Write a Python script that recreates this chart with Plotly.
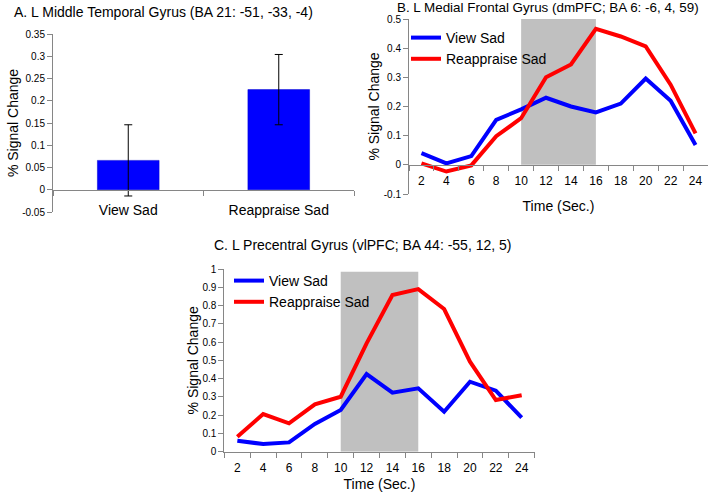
import plotly.graph_objects as go

# ---------------- data ----------------
categories = ["View Sad", "Reappraise Sad"]
bar_values = [0.066, 0.225]
bar_errors = [0.080, 0.079]

time_sec = [2, 4, 6, 8, 10, 12, 14, 16, 18, 20, 22, 24]
b_view_sad = [0.040, 0.005, 0.030, 0.154, 0.190, 0.230, 0.200, 0.180, 0.210, 0.296, 0.220, 0.068]
b_reappraise_sad = [0.005, -0.023, -0.002, 0.098, 0.160, 0.300, 0.344, 0.466, 0.440, 0.406, 0.275, 0.108]
c_view_sad = [0.060, 0.042, 0.051, 0.152, 0.228, 0.425, 0.323, 0.347, 0.219, 0.383, 0.334, 0.186]
c_reappraise_sad = [0.082, 0.206, 0.155, 0.259, 0.301, 0.593, 0.858, 0.890, 0.781, 0.493, 0.283, 0.309]

shade_start, shade_end = 10, 16
b_shade_top, c_shade_top = 0.5, 0.985

title_a = "A. L Middle Temporal Gyrus (BA 21: -51, -33, -4)"
title_b = "B. L Medial Frontal Gyrus (dmPFC; BA 6: -6, 4, 59)"
title_c = "C. L Precentral Gyrus (vlPFC; BA 44: -55, 12, 5)"

# ---------------- layout helpers ----------------
W, H = 708, 492
FONT = "Liberation Sans, Arial, sans-serif"
AX = "#868686"
BLUE = "#0000FF"
RED = "#FF0000"


def xd(left, right):
    return [left / W, min(right / W, 1.0)]


def yd(top, bottom):
    return [1 - bottom / H, 1 - top / H]


def zero_pos(ydom, yrange):
    return ydom[0] + (0 - yrange[0]) / (yrange[1] - yrange[0]) * (ydom[1] - ydom[0])


a_x, a_y, a_rng = xd(53, 354), yd(34, 212), [-0.05, 0.35]
b_x, b_y, b_rng = xd(409, 708), yd(19, 194), [-0.1, 0.5]
c_x, c_y, c_rng = xd(224.4, 534.6), yd(269, 451.7), [0, 1]

fig = go.Figure()

# Panel A bars
cat_pos = list(range(len(categories)))
fig.add_trace(go.Bar(
    x=cat_pos, y=bar_values, width=0.41,
    marker=dict(color=BLUE, line=dict(color="#0000cc", width=0.5)),
    error_y=dict(type="data", array=bar_errors, color="black", thickness=1, width=4),
    xaxis="x", yaxis="y", showlegend=False,
))

# Panel B lines
fig.add_trace(go.Scatter(x=time_sec, y=b_view_sad, mode="lines", name="View Sad",
                         line=dict(color=BLUE, width=4), xaxis="x2", yaxis="y2", legend="legend"))
fig.add_trace(go.Scatter(x=time_sec, y=b_reappraise_sad, mode="lines", name="Reappraise Sad",
                         line=dict(color=RED, width=4), xaxis="x2", yaxis="y2", legend="legend"))

# Panel C lines
fig.add_trace(go.Scatter(x=time_sec, y=c_view_sad, mode="lines", name="View Sad",
                         line=dict(color=BLUE, width=4), xaxis="x3", yaxis="y3", legend="legend2"))
fig.add_trace(go.Scatter(x=time_sec, y=c_reappraise_sad, mode="lines", name="Reappraise Sad",
                         line=dict(color=RED, width=4), xaxis="x3", yaxis="y3", legend="legend2"))

# shaded stimulus windows
fig.add_shape(type="rect", xref="x2", yref="y2", x0=shade_start, x1=shade_end, y0=0, y1=b_shade_top,
              fillcolor="#c0c0c0", line=dict(width=0), layer="below")
fig.add_shape(type="rect", xref="x3", yref="y3", x0=shade_start, x1=shade_end, y0=0, y1=c_shade_top,
              fillcolor="#c0c0c0", line=dict(width=0), layer="below")

tick_font = dict(family=FONT, size=10, color="black")
xtick_font = dict(family=FONT, size=12, color="black")
title_font = dict(family=FONT, size=14, color="black")

yax_common = dict(showgrid=False, zeroline=False, showline=True, linecolor=AX, linewidth=1,
                  ticks="outside", ticklen=5, tickcolor=AX, tickfont=tick_font, automargin=False)

t_lo, t_hi = time_sec[0] - 1, time_sec[-1] + 1

fig.update_layout(
    width=W, height=H, margin=dict(l=0, r=0, t=0, b=0, autoexpand=False),
    paper_bgcolor="white", plot_bgcolor="rgba(0,0,0,0)",
    font=dict(family=FONT, color="black"),
    # Panel A
    xaxis=dict(domain=a_x, range=[-0.5, len(categories) - 0.5], anchor="free",
               position=zero_pos(a_y, a_rng), showgrid=False, zeroline=False,
               showline=True, linecolor=AX, linewidth=1, automargin=False,
               tickmode="array", tickvals=cat_pos, ticktext=categories,
               ticks="outside", ticklen=7, tickcolor="rgba(0,0,0,0)",
               tickfont=dict(family=FONT, size=14, color="black"),
               minor=dict(tick0=-0.5, dtick=1, ticks="outside", ticklen=5, tickcolor=AX)),
    yaxis=dict(domain=a_y, range=a_rng, anchor="x", tickmode="array",
               tickvals=[-0.05, 0, 0.05, 0.1, 0.15, 0.2, 0.25, 0.3, 0.35],
               ticktext=["-0.05", "0", "0.05", "0.1", "0.15", "0.2", "0.25", "0.3", "0.35"],
               title=dict(text="% Signal Change", font=title_font, standoff=0),
               **yax_common),
    # Panel B
    xaxis2=dict(domain=b_x, range=[t_lo, t_hi], anchor="free",
                position=zero_pos(b_y, b_rng), showgrid=False, zeroline=False,
                showline=True, linecolor=AX, linewidth=1, automargin=False,
                tickmode="array", tickvals=time_sec, ticktext=[str(t) for t in time_sec],
                ticks="outside", ticklen=5, tickcolor="rgba(0,0,0,0)", tickfont=xtick_font,
                minor=dict(tick0=t_lo, dtick=2, ticks="outside", ticklen=5, tickcolor=AX),
                title=dict(text="Time (Sec.)", font=title_font, standoff=13)),
    yaxis2=dict(domain=b_y, range=b_rng, anchor="x2", tickmode="array",
                tickvals=[-0.1, 0, 0.1, 0.2, 0.3, 0.4, 0.5],
                ticktext=["-0.1", "0", "0.1", "0.2", "0.3", "0.4", "0.5"],
                title=dict(text="% Signal Change", font=title_font, standoff=0),
                **yax_common),
    # Panel C
    xaxis3=dict(domain=c_x, range=[t_lo, t_hi], anchor="y3", showgrid=False, zeroline=False,
                showline=True, linecolor=AX, linewidth=1, automargin=False,
                tickmode="array", tickvals=time_sec, ticktext=[str(t) for t in time_sec],
                ticks="outside", ticklen=5, tickcolor="rgba(0,0,0,0)", tickfont=xtick_font,
                minor=dict(tick0=t_lo, dtick=2, ticks="outside", ticklen=5, tickcolor=AX),
                title=dict(text="Time (Sec.)", font=title_font, standoff=6)),
    yaxis3=dict(domain=c_y, range=c_rng, anchor="x3", tickmode="array",
                tickvals=[0, 0.1, 0.2, 0.3, 0.4, 0.5, 0.6, 0.7, 0.8, 0.9, 1],
                ticktext=["0", "0.1", "0.2", "0.3", "0.4", "0.5", "0.6", "0.7", "0.8", "0.9", "1"],
                title=dict(text="% Signal Change", font=title_font, standoff=0),
                **yax_common),
    legend=dict(x=406 / W, y=1 - 22 / H, xanchor="left", yanchor="top",
                bgcolor="rgba(0,0,0,0)", font=dict(family=FONT, size=14, color="black"),
                itemwidth=30, tracegroupgap=0),
    legend2=dict(x=229 / W, y=1 - 265 / H, xanchor="left", yanchor="top",
                 bgcolor="rgba(0,0,0,0)", font=dict(family=FONT, size=14, color="black"),
                 itemwidth=30, tracegroupgap=0),
    annotations=[
        dict(text=title_a, x=12 / W, y=1 - 12 / H, xref="paper", yref="paper",
             xanchor="left", yanchor="middle", showarrow=False,
             font=dict(family=FONT, size=14, color="black")),
        dict(text=title_b, x=395 / W, y=1 - 7 / H, xref="paper", yref="paper",
             xanchor="left", yanchor="middle", showarrow=False,
             font=dict(family=FONT, size=13.4, color="black")),
        dict(text=title_c, x=212 / W, y=1 - 245 / H, xref="paper", yref="paper",
             xanchor="left", yanchor="middle", showarrow=False,
             font=dict(family=FONT, size=14, color="black")),
    ],
)

fig.write_html("out.html", config={"displayModeBar": False},
               post_script="document.body.style.margin='0';document.body.style.overflow='hidden';")
